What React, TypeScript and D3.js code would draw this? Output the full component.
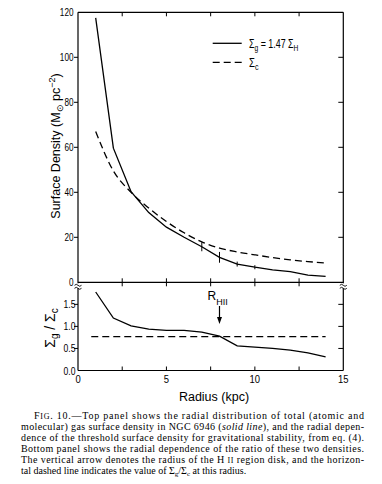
import React from "react";
import * as d3 from "d3";

const radius = [1, 2, 3, 4, 5, 6, 7, 8, 9, 10, 11, 12, 13, 14];
const sigmaGas = [117.5, 59.6, 40.3, 31, 24.5, 20, 15.8, 11.1, 8.1, 6.7, 5.5, 4.7, 3.2, 2.6];
const sigmaCrit = [67, 49.5, 40, 33, 27, 22, 18, 15.2, 13.5, 12.2, 11, 10, 9.2, 8.6];
const ratio = [1.78, 1.19, 1.01, 0.94, 0.91, 0.91, 0.87, 0.78, 0.56, 0.53, 0.5, 0.46, 0.4, 0.31];
const errRadius = [7, 8, 9, 10];
const errHalf = [2.0, 2.4, 1.1, 0.9];
const ratioAtRHII = 0.77;
const dashedRange = [0.75, 14];
const rHII = 8;
const xTicks = [0, 2.5, 5, 7.5, 10, 12.5, 15];
const xTickLabels = [0, 5, 10, 15];
const yTopTicks = [0, 20, 40, 60, 80, 100, 120];
const yBotTicks = [0, 0.5, 1.0, 1.5];

const captionLines = [
  "Top panel shows the radial distribution of total (atomic and",
  "molecular) gas surface density in NGC 6946 ",
  "dence of the threshold surface density for gravitational stability, from eq. (4).",
  "Bottom panel shows the radial dependence of the ratio of these two densities.",
  "The vertical arrow denotes the radius of the H ",
  "tal dashed line indicates the value of ",
];

export default function App() {
  const x = d3.scaleLinear().domain([0, 15]).range([78, 343.3]);
  const yTop = d3.scaleLinear().domain([0, 120]).range([282.3, 12.3]);
  const yBot = d3.scaleLinear().domain([0, 2]).range([370.5, 282.3]);
  const L = x(0), R = x(15), T = yTop(120), M = yTop(0), B = yBot(0);

  const gasPath = d3.line<number>().x((_, i) => x(radius[i])).y((d) => yTop(d))(sigmaGas) || "";
  const critPath = d3.line<number>().x((_, i) => x(radius[i])).y((d) => yTop(d)).curve(d3.curveMonotoneX)(sigmaCrit) || "";
  const ratioPath = d3.line<number>().x((_, i) => x(radius[i])).y((d) => yBot(d))(ratio) || "";

  const axisFont = "'Liberation Sans', Arial, sans-serif";
  const serif = "'Liberation Serif', 'Times New Roman', serif";
  const sw = 1.3;
  const dash = "7,4";

  const breakMark = (cx: number, cy: number) => (
    <g key={`b${cx}`} stroke="#000" strokeWidth={0.9} fill="none">
      <rect x={cx - 3.5} y={cy - 2.5} width={7} height={5} fill="#fff" stroke="none" />
      <path d={`M${cx - 3.5},${cy - 0.5} q1.75,-2 3.5,0 t3.5,0`} />
      <path d={`M${cx - 3.5},${cy + 2.5} q1.75,-2 3.5,0 t3.5,0`} />
    </g>
  );

  return (
    <svg width={382} height={484} style={{ position: "absolute", left: 0, top: 0, background: "#fff" }}>
      <rect width={382} height={484} fill="#fff" />
      {/* frames */}
      <g stroke="#000" strokeWidth={1.2} fill="none">
        <line x1={L} y1={T} x2={R} y2={T} />
        <line x1={L} y1={T} x2={L} y2={B} />
        <line x1={R} y1={T} x2={R} y2={B} />
        <line x1={L} y1={M} x2={R} y2={M} />
        <line x1={L} y1={B} x2={R} y2={B} />
      </g>
      {/* ticks */}
      <g stroke="#000" strokeWidth={1}>
        {xTicks.slice(1, -1).map((t) => (
          <g key={`xt${t}`}>
            <line x1={x(t)} x2={x(t)} y1={T} y2={T + 4} />
            <line x1={x(t)} x2={x(t)} y1={M - 4} y2={M + 4} />
            <line x1={x(t)} x2={x(t)} y1={B} y2={B - 4} />
          </g>
        ))}
        {yTopTicks.slice(1, -1).map((t) => (
          <g key={`yt${t}`}>
            <line x1={L - 4} x2={L} y1={yTop(t)} y2={yTop(t)} />
            <line x1={R - 5} x2={R} y1={yTop(t)} y2={yTop(t)} />
          </g>
        ))}
        {yBotTicks.slice(1).map((t) => (
          <g key={`yb${t}`}>
            <line x1={L - 4} x2={L} y1={yBot(t)} y2={yBot(t)} />
            <line x1={R - 5} x2={R} y1={yBot(t)} y2={yBot(t)} />
          </g>
        ))}
      </g>
      {breakMark(L, M + 3.5)}
      {breakMark(R, M + 3.5)}
      {/* tick labels */}
      <g fontFamily={axisFont} fontSize={10.5} fill="#000">
        {yTopTicks.map((t) => (
          <text key={`ytl${t}`} transform={`translate(${L - 4.5},${yTop(t) + 4}) scale(0.78,1)`} textAnchor="end">{t}</text>
        ))}
        {yBotTicks.map((t) => (
          <text key={`ybl${t}`} transform={`translate(${L - 2.5},${yBot(t) + 4}) scale(0.82,1)`} textAnchor="end">{t.toFixed(1)}</text>
        ))}
        {xTickLabels.map((t) => (
          <text key={`xtl${t}`} transform={`translate(${x(t)},${B + 12}) scale(0.9,1)`} textAnchor="middle">{t}</text>
        ))}
      </g>
      {/* axis titles */}
      <text x={214} y={401} textAnchor="middle" fontFamily={axisFont} fontSize={12.5}>Radius (kpc)</text>
      <text transform={`translate(60,146) rotate(-90)`} textAnchor="middle" fontFamily={axisFont} fontSize={12.5}>
        Surface Density (M<tspan fontSize={9} dy={3}>⊙</tspan>
        <tspan dy={-3}> pc</tspan><tspan fontSize={9} dy={-5}>−2</tspan><tspan dy={5}>)</tspan>
      </text>
      <text transform={`translate(55,328) rotate(-90)`} textAnchor="middle" fontFamily={axisFont} fontSize={14}>
        Σ<tspan fontSize={10} dy={3}>g</tspan><tspan dy={-3}> / Σ</tspan><tspan fontSize={10} dy={3}>c</tspan>
      </text>
      {/* data */}
      <path d={gasPath} fill="none" stroke="#000" strokeWidth={sw} />
      <path d={critPath} fill="none" stroke="#000" strokeWidth={sw} strokeDasharray={dash} />
      <g stroke="#000" strokeWidth={1}>
        {errRadius.map((r, i) => {
          const v = sigmaGas[radius.indexOf(r)];
          return <line key={`e${r}`} x1={x(r)} x2={x(r)} y1={yTop(v + errHalf[i])} y2={yTop(v - errHalf[i])} />;
        })}
      </g>
      <path d={ratioPath} fill="none" stroke="#000" strokeWidth={sw} />
      <line x1={x(dashedRange[0])} x2={x(dashedRange[1])} y1={yBot(ratioAtRHII)} y2={yBot(ratioAtRHII)} stroke="#000" strokeWidth={sw} strokeDasharray={dash} />
      {/* RHII arrow */}
      <text x={x(rHII) - 12} y={300} fontFamily={axisFont} fontSize={12}>R<tspan fontSize={9} dy={5}>HII</tspan></text>
      <line x1={x(rHII)} x2={x(rHII)} y1={306} y2={318} stroke="#000" strokeWidth={1.2} />
      <path d={`M${x(rHII) - 2.5},${317} L${x(rHII) + 2.5},${317} L${x(rHII)},${324} Z`} fill="#000" />
      {/* legend */}
      <line x1={212.7} x2={241.7} y1={43.3} y2={43.3} stroke="#000" strokeWidth={sw} />
      <line x1={212.7} x2={241.7} y1={62.3} y2={62.3} stroke="#000" strokeWidth={sw} strokeDasharray="7,4" />
      <g transform="translate(249,47.5) scale(0.74,1)">
        <text x={0} y={0} fontFamily={axisFont} fontSize={12}>
          Σ<tspan fontSize={9} dy={3}>g</tspan><tspan dy={-3}> = 1.47 Σ</tspan><tspan fontSize={9} dy={3}>H</tspan>
        </text>
      </g>
      <g transform="translate(249,66.5) scale(0.8,1)">
        <text x={0} y={0} fontFamily={axisFont} fontSize={12}>
          Σ<tspan fontSize={9} dy={3}>c</tspan>
        </text>
      </g>
      {/* caption */}
      <g fontFamily={serif} fontSize={10} fill="#000">
        <text x={34} y={418.5} textLength={330} lengthAdjust="spacing">
          F<tspan fontSize={8}>IG</tspan>. 10.—{captionLines[0]}
        </text>
        <text x={21} y={429.5} textLength={343} lengthAdjust="spacing">
          {captionLines[1]}(<tspan fontStyle="italic">solid line</tspan>), and the radial depen-
        </text>
        <text x={21} y={440.5} textLength={343} lengthAdjust="spacing">{captionLines[2]}</text>
        <text x={21} y={451.5} textLength={343} lengthAdjust="spacing">{captionLines[3]}</text>
        <text x={21} y={462.5} textLength={343} lengthAdjust="spacing">
          {captionLines[4]}<tspan fontSize={8}>II</tspan> region disk, and the horizon-
        </text>
        <text x={21} y={473.5}>
          {captionLines[5]}Σ<tspan fontSize={7} dy={2}>g</tspan><tspan dy={-2}>/Σ</tspan><tspan fontSize={7} dy={2}>c</tspan><tspan dy={-2}> at this radius.</tspan>
        </text>
      </g>
    </svg>
  );
}
